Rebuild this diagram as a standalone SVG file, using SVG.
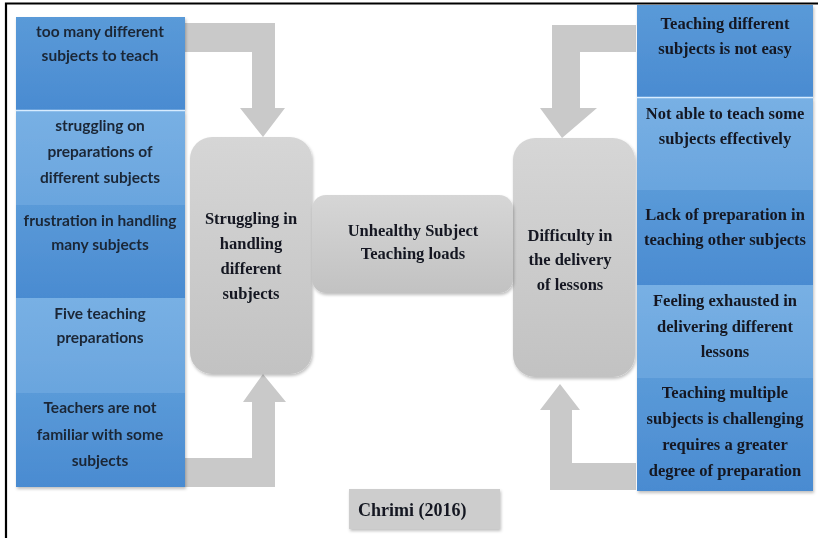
<svg xmlns="http://www.w3.org/2000/svg" width="818" height="538" viewBox="0 0 818 538">
  <defs>
    <linearGradient id="grayFill" x1="0" y1="0" x2="0" y2="1">
      <stop offset="0" stop-color="#d6d6d6"/>
      <stop offset="1" stop-color="#c2c2c2"/>
    </linearGradient>
    <linearGradient id="blueDark" x1="0" y1="0" x2="0" y2="1">
      <stop offset="0" stop-color="#5a9ad8"/>
      <stop offset="1" stop-color="#4a8bd1"/>
    </linearGradient>
    <linearGradient id="blueLight" x1="0" y1="0" x2="0" y2="1">
      <stop offset="0" stop-color="#78b0e4"/>
      <stop offset="1" stop-color="#6aa5de"/>
    </linearGradient>
    <filter id="shadow" x="-10%" y="-10%" width="130%" height="130%">
      <feDropShadow dx="1" dy="2" stdDeviation="1.5" flood-color="#000" flood-opacity="0.25"/>
    </filter>
  </defs>
  <style>
    .sans { font-family: Lato, "Liberation Sans", sans-serif; font-weight: 700; font-size: 15.5px; fill: #1a2636; text-anchor: middle; }
    .serif { font-family: "Liberation Serif", serif; font-weight: 700; font-size: 16.5px; fill: #131821; text-anchor: middle; }
    .core { fill: url(#grayFill); }
    .arrow { fill: #c9c9c9; }
    .dark { fill: url(#blueDark); }
    .light { fill: url(#blueLight); }
    .sep { stroke: #d8ecff; stroke-width: 1.5; }
  </style>

  <rect width="818" height="538" fill="#ffffff"/>
  <!-- page frame -->
  <path d="M6 545 V3.5 H830" fill="none" stroke="#000" stroke-width="2.2"/>

  <!-- connectors: block arrows -->
  <g id="connectors">
    <path class="arrow" d="M185 23 H275 V108 H285 L263 137 L240 108 H252 V52 H185 Z"/>
    <path class="arrow" d="M185 487 H275 V402 H286 L263 374 L243 402 H252 V458 H185 Z"/>
    <path class="arrow" d="M636 25 H552 V108 H540 L562 138 L597 108 H580 V52 H636 Z"/>
    <path class="arrow" d="M636 490 H550 V410 H540 L560 384 L580 410 H572 V463 H636 Z"/>
  </g>

  <!-- left column of findings -->
  <g id="left-findings" filter="url(#shadow)">
    <g id="l1">
      <rect class="dark" x="16" y="17" width="169" height="93"/>
      <text class="sans" x="100" y="37">too many different</text>
      <text class="sans" x="100" y="61">subjects to teach</text>
    </g>
    <g id="l2">
      <rect class="light" x="16" y="111" width="169" height="94"/>
      <text class="sans" x="100" y="131">struggling on</text>
      <text class="sans" x="100" y="157">preparations of</text>
      <text class="sans" x="100" y="183">different subjects</text>
    </g>
    <g id="l3">
      <rect class="dark" x="16" y="205" width="169" height="93"/>
      <text class="sans" x="100" y="226">frustration in handling</text>
      <text class="sans" x="100" y="250">many subjects</text>
    </g>
    <g id="l4">
      <rect class="light" x="16" y="298" width="169" height="95"/>
      <text class="sans" x="100" y="319">Five teaching</text>
      <text class="sans" x="100" y="343">preparations</text>
    </g>
    <g id="l5">
      <rect class="dark" x="16" y="393" width="169" height="94"/>
      <text class="sans" x="100" y="413">Teachers are not</text>
      <text class="sans" x="100" y="440">familiar with some</text>
      <text class="sans" x="100" y="466">subjects</text>
    </g>
  </g>
  <line class="sep" x1="16" y1="110.5" x2="185" y2="110.5"/>

  <!-- central themes -->
  <g id="struggling" filter="url(#shadow)">
    <rect class="core" x="190" y="137" width="122" height="237" rx="22"/>
    <text class="serif" x="251" y="224">Struggling in</text>
    <text class="serif" x="251" y="249">handling</text>
    <text class="serif" x="251" y="274">different</text>
    <text class="serif" x="251" y="299">subjects</text>
  </g>
  <g id="difficulty" filter="url(#shadow)">
    <rect class="core" x="513" y="138" width="122" height="239" rx="22"/>
    <text class="serif" x="570" y="241">Difficulty in</text>
    <text class="serif" x="570" y="265">the delivery</text>
    <text class="serif" x="570" y="290">of lessons</text>
  </g>
  <g id="unhealthy" filter="url(#shadow)">
    <rect class="core" x="312" y="195" width="201" height="98" rx="14"/>
    <text class="serif" x="413" y="236">Unhealthy Subject</text>
    <text class="serif" x="413" y="259">Teaching loads</text>
  </g>

  <!-- right column of findings -->
  <g id="right-findings" filter="url(#shadow)">
    <g id="r1">
      <rect class="dark" x="637" y="5" width="176" height="92"/>
      <text class="serif" x="725" y="29">Teaching different</text>
      <text class="serif" x="725" y="54">subjects is not easy</text>
    </g>
    <g id="r2">
      <rect class="light" x="637" y="98" width="176" height="92"/>
      <text class="serif" x="725" y="119">Not able to teach some</text>
      <text class="serif" x="725" y="144">subjects effectively</text>
    </g>
    <g id="r3">
      <rect class="dark" x="637" y="190" width="176" height="95"/>
      <text class="serif" x="725" y="220">Lack of preparation in</text>
      <text class="serif" x="725" y="245">teaching other subjects</text>
    </g>
    <g id="r4">
      <rect class="light" x="637" y="285" width="176" height="93"/>
      <text class="serif" x="725" y="306">Feeling exhausted in</text>
      <text class="serif" x="725" y="332">delivering different</text>
      <text class="serif" x="725" y="357">lessons</text>
    </g>
    <g id="r5">
      <rect class="dark" x="637" y="378" width="176" height="113"/>
      <text class="serif" x="725" y="398">Teaching multiple</text>
      <text class="serif" x="725" y="424">subjects is challenging</text>
      <text class="serif" x="725" y="450">requires a greater</text>
      <text class="serif" x="725" y="476">degree of preparation</text>
    </g>
  </g>
  <line class="sep" x1="637" y1="97.5" x2="813" y2="97.5"/>

  <!-- source citation -->
  <g id="citation" filter="url(#shadow)">
    <rect x="349" y="489" width="151" height="40" fill="#cdcdcd"/>
    <text class="serif" x="358" y="516" style="text-anchor:start;font-size:18px">Chrimi (2016)</text>
  </g>
</svg>
